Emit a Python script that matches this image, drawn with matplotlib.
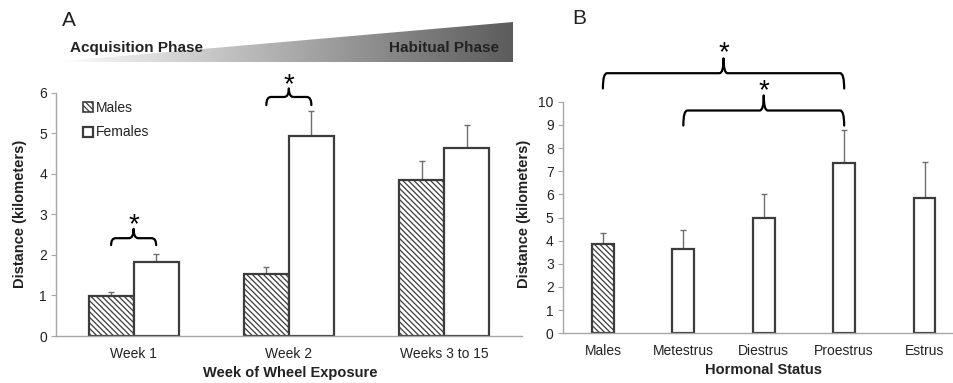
import numpy as np
import matplotlib
matplotlib.use('Agg')
import matplotlib.pyplot as plt
from matplotlib.patches import Patch, Polygon, PathPatch
from matplotlib.path import Path

plt.rcParams['font.family'] = ['Liberation Sans', 'DejaVu Sans']
plt.rcParams['hatch.linewidth'] = 0.9

# Panel A data
weeks = ['Week 1', 'Week 2', 'Weeks 3 to 15']
males_a = [0.99, 1.52, 3.85]
males_a_err = [0.09, 0.17, 0.47]
females_a = [1.83, 4.94, 4.63]
females_a_err = [0.20, 0.61, 0.57]

# Panel B data
status = ['Males', 'Metestrus', 'Diestrus', 'Proestrus', 'Estrus']
dist_b = [3.84, 3.63, 4.98, 7.35, 5.84]
dist_b_err = [0.50, 0.82, 1.05, 1.44, 1.56]

EDGE = '#3c3c3c'
ERRC = '#6e6e6e'
AXC = '#a6a6a6'
HATCH = '\\' * 6


def brace(ax, x0, x1, y, hd, hu, rx):
    xm = (x0 + x1) / 2
    verts = [(x0, y - hd), (x0, y), (x0 + rx, y), (xm - rx, y), (xm, y), (xm, y + hu),
             (xm, y), (xm + rx, y), (x1 - rx, y), (x1, y), (x1, y - hd)]
    codes = [Path.MOVETO, Path.CURVE3, Path.CURVE3, Path.LINETO, Path.CURVE3, Path.CURVE3,
             Path.CURVE3, Path.CURVE3, Path.LINETO, Path.CURVE3, Path.CURVE3]
    ax.add_patch(PathPatch(Path(verts, codes), facecolor='none', edgecolor='black',
                           lw=1.6, clip_on=False, capstyle='round', joinstyle='round'))


def star(ax, x, y):
    ax.annotate('*', xy=(x, y), xytext=(0, -11), textcoords='offset points',
                ha='center', va='baseline', fontsize=20, color='black', annotation_clip=False)


def style_axes(ax):
    for s in ['top', 'right']:
        ax.spines[s].set_visible(False)
    for s in ['left', 'bottom']:
        ax.spines[s].set_color(AXC)
        ax.spines[s].set_linewidth(1.0)
    ax.tick_params(axis='y', direction='out', length=3.5, color=AXC, labelsize=10,
                   labelcolor='#222222', pad=3)
    ax.tick_params(axis='x', length=0, labelsize=10, labelcolor='#222222', pad=8)


fig = plt.figure(figsize=(9.54, 3.83), dpi=100)

# background overlay for the phase banner (pixel coordinates)
bg = fig.add_axes([0, 0, 1, 1], zorder=0)
bg.set_xlim(0, 954)
bg.set_ylim(383, 0)
bg.axis('off')
wedge = Polygon([(53, 62), (513, 62), (513, 22)], closed=True, facecolor='none', edgecolor='none')
bg.add_patch(wedge)
grad = np.linspace(1.0, 0.36, 256).reshape(1, -1)
im = bg.imshow(grad, cmap='gray', vmin=0, vmax=1, extent=[53, 513, 62, 22], aspect='auto')
im.set_clip_path(wedge)
bg.set_xlim(0, 954)
bg.set_ylim(383, 0)
bg.text(70, 48, 'Acquisition Phase', fontsize=11, fontweight='bold', color='#222222', va='center')
bg.text(499, 48, 'Habitual Phase', fontsize=11, fontweight='bold', color='#222222', va='center', ha='right')
bg.text(62, 20, 'A', fontsize=15, color='#222222', va='center')
bg.text(572, 18, 'B', fontsize=15, color='#222222', va='center')

# ---- Panel A ----
axA = fig.add_axes([56 / 954, 1 - 336 / 383, (521.7 - 56) / 954, (336 - 92.5) / 383], zorder=1)
axA.patch.set_alpha(0)
x = np.arange(len(weeks))
w = 0.29
axA.bar(x - w / 2, males_a, w, color='white', edgecolor=EDGE, lw=1.6, hatch=HATCH,
        label='Males', zorder=2)
axA.bar(x + w / 2, females_a, w, color='white', edgecolor=EDGE, lw=1.6, label='Females', zorder=2)
axA.errorbar(x - w / 2, males_a, yerr=[np.zeros(3), males_a_err], fmt='none', ecolor=ERRC,
             elinewidth=1, capsize=2, zorder=1)
axA.errorbar(x + w / 2, females_a, yerr=[np.zeros(3), females_a_err], fmt='none', ecolor=ERRC,
             elinewidth=1, capsize=2, zorder=1)
axA.set_xlim(-0.5, 2.5)
axA.set_ylim(0, 6)
axA.set_yticks(range(0, 7))
axA.set_xticks(x)
axA.set_xticklabels(weeks)
style_axes(axA)
axA.set_xlabel('Week of Wheel Exposure', fontsize=10.5, fontweight='bold', color='#222222')
axA.xaxis.set_label_coords(0.502, -0.125)
axA.set_ylabel('Distance (kilometers)', fontsize=10.5, fontweight='bold', color='#222222')
axA.yaxis.set_label_coords(-0.062, 0.5)

handles = [Patch(facecolor='white', edgecolor=EDGE, hatch=HATCH, lw=1.2, label='Males'),
           Patch(facecolor='white', edgecolor=EDGE, lw=1.6, label='Females')]
leg = axA.legend(handles=handles, loc='upper left', bbox_to_anchor=(0.058, 0.965), frameon=False,
                 fontsize=10, handlelength=0.75, handleheight=0.75, handletextpad=0.2,
                 labelspacing=0.75, borderaxespad=0, borderpad=0)
for t in leg.get_texts():
    t.set_color('#222222')

brace(axA, -w / 2, w / 2, 2.41, 0.17, 0.23, 0.03)
star(axA, 0, 2.94)
brace(axA, 1 - w / 2, 1 + w / 2, 5.89, 0.20, 0.21, 0.03)
star(axA, 1, 6.39)

# ---- Panel B ----
axB = fig.add_axes([562.7 / 954, 1 - 333.3 / 383, 1 - 562.7 / 954, (333.3 - 101.7) / 383], zorder=1)
axB.patch.set_alpha(0)
xb = np.arange(len(status))
wb = 0.27
hatches = [HATCH, '', '', '', '']
bars = axB.bar(xb, dist_b, wb, color='white', edgecolor=EDGE, lw=1.6, zorder=2)
for b, h in zip(bars, hatches):
    b.set_hatch(h)
axB.errorbar(xb, dist_b, yerr=[np.zeros(len(xb)), dist_b_err], fmt='none', ecolor=ERRC,
             elinewidth=1, capsize=2, zorder=1)
axB.set_xlim(-0.5, (954 - 603) / 80.4)
axB.set_ylim(0, 10)
axB.set_yticks(range(0, 11))
axB.set_xticks(xb)
axB.set_xticklabels(status)
style_axes(axB)
axB.set_xlabel('Hormonal Status', fontsize=10.5, fontweight='bold', color='#222222')
axB.xaxis.set_label_coords(0.513, -0.13)
axB.set_ylabel('Distance (kilometers)', fontsize=10.5, fontweight='bold', color='#222222')
axB.yaxis.set_label_coords(-0.08, 0.515)

brace(axB, 0, 3, 11.23, 0.66, 0.64, 0.05)
star(axB, 1.5, 12.43)
brace(axB, 1, 3, 9.62, 0.65, 0.65, 0.05)
star(axB, 2, 10.83)

fig.savefig('out.png', dpi=100)
